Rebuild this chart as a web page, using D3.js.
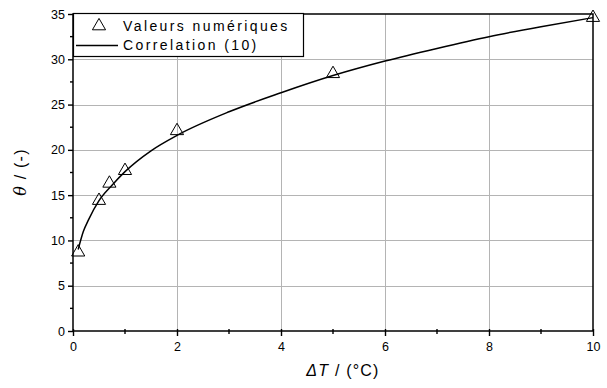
<!DOCTYPE html>
<html lang="fr">
<head>
<meta charset="UTF-8">
<title>theta vs deltaT</title>
<style>
  body{margin:0;background:#fff;}
  svg{display:block;font-family:"Liberation Sans",Arial,sans-serif;}
</style>
</head>
<body>
<svg width="607" height="388"></svg>
<script src="https://d3js.org/d3.v7.min.js"></script>
<script>
// valeurs numériques (triangles)
var ptX = [0.1, 0.5, 0.7, 1, 2, 5, 10];
var ptY = [8.7, 14.4, 16.3, 17.7, 22.1, 28.4, 34.6];
// corrélation (10)
var curX = [0.1, 0.2, 0.3, 0.5, 0.75, 1, 1.5, 2, 3, 4, 5, 6, 7, 8, 9, 10];
var curY = [9.0, 11.0, 12.3, 14.4, 16.1, 17.6, 19.9, 21.6, 24.2, 26.3, 28.2, 29.8, 31.2, 32.5, 33.6, 34.6];
var xTicks = [0, 2, 4, 6, 8, 10];
var yTicks = [0, 5, 10, 15, 20, 25, 30, 35];
var legendLabels = ["Valeurs numériques", "Correlation (10)"];

var svg = d3.select("svg");
var L = 73, R = 593, T = 14, B = 331;

var x = d3.scaleLinear().domain([0, 10]).range([L, R]);
var y = d3.scaleLinear().domain([0, 35]).range([B, T]);

// grille
var grid = svg.append("g").attr("stroke", "#b4b4b4").attr("stroke-width", 1);
grid.selectAll(".gx").data(xTicks.slice(1, -1)).enter().append("line")
  .attr("x1", function(d){return Math.round(x(d)) + 0.5;}).attr("x2", function(d){return Math.round(x(d)) + 0.5;})
  .attr("y1", T).attr("y2", B);
grid.selectAll(".gy").data(yTicks.slice(1, -1)).enter().append("line")
  .attr("y1", function(d){return Math.round(y(d)) + 0.5;}).attr("y2", function(d){return Math.round(y(d)) + 0.5;})
  .attr("x1", L).attr("x2", R);

// axes
var xAxis = d3.axisBottom(x).tickValues(xTicks).tickSize(5).tickPadding(3).tickFormat(d3.format("d"));
var yAxis = d3.axisLeft(y).tickValues(yTicks).tickSize(5).tickPadding(3).tickFormat(d3.format("d"));
var gx = svg.append("g").attr("transform", "translate(0," + B + ")").call(xAxis);
var gy = svg.append("g").attr("transform", "translate(" + L + ",0)").call(yAxis);
[gx, gy].forEach(function(g){
  g.select(".domain").remove();
  g.selectAll("line").attr("stroke", "#000").attr("stroke-width", 1.4);
  g.selectAll("text").attr("fill", "#000").attr("font-size", 12.5);
});
gx.selectAll(".tick line").attr("y1", -2);
gx.selectAll(".tick text").attr("dy", "0.95em");

// petites graduations
svg.append("g").selectAll("line").data([1, 3, 5, 7, 9]).enter().append("line")
  .attr("x1", function(d){return x(d);}).attr("x2", function(d){return x(d);})
  .attr("y1", B - 2).attr("y2", B + 3).attr("stroke", "#000").attr("stroke-width", 1.4);
svg.append("g").selectAll("line").data(d3.range(2.5, 35, 5)).enter().append("line")
  .attr("y1", function(d){return y(d);}).attr("y2", function(d){return y(d);})
  .attr("x1", L - 3).attr("x2", L).attr("stroke", "#000").attr("stroke-width", 1.4);

// cadre
svg.append("rect").attr("x", L).attr("y", T).attr("width", R - L).attr("height", B - T)
  .attr("fill", "none").attr("stroke", "#000").attr("stroke-width", 1.5);

// courbe
var line = d3.line().x(function(d){return x(d[0]);}).y(function(d){return y(d[1]);}).curve(d3.curveMonotoneX);
svg.append("path").attr("d", line(d3.zip(curX, curY)))
  .attr("fill", "none").attr("stroke", "#000").attr("stroke-width", 1.5);

// triangles
var tri = d3.symbol().type(d3.symbolTriangle).size(75);
svg.append("g").selectAll("path").data(d3.zip(ptX, ptY)).enter().append("path")
  .attr("d", tri)
  .attr("transform", function(d){return "translate(" + x(d[0]) + "," + y(d[1]) + ")";})
  .attr("fill", "none").attr("stroke", "#000").attr("stroke-width", 1);

// légende
var lg = svg.append("g");
lg.append("rect").attr("x", 73.5).attr("y", 13.5).attr("width", 230).attr("height", 43)
  .attr("fill", "#fff").attr("stroke", "#000").attr("stroke-width", 1.2);
lg.append("path").attr("d", tri).attr("transform", "translate(99,26)")
  .attr("fill", "none").attr("stroke", "#000").attr("stroke-width", 1);
lg.append("line").attr("x1", 76).attr("x2", 118).attr("y1", 45.5).attr("y2", 45.5)
  .attr("stroke", "#000").attr("stroke-width", 1.3);
lg.selectAll("text").data(legendLabels).enter().append("text")
  .attr("x", 123).attr("y", function(d, i){return 30.5 + i * 19.5;})
  .attr("font-size", 14).attr("letter-spacing", 2.4).attr("fill", "#000")
  .text(function(d){return d;});

// titres des axes
var xt = svg.append("text").attr("x", 343).attr("y", 376).attr("text-anchor", "middle")
  .attr("font-size", 16).attr("letter-spacing", 1.2).attr("fill", "#000");
xt.append("tspan").attr("font-style", "italic").text("\u0394T");
xt.append("tspan").text(" / (°C)");

var yt = svg.append("text").attr("transform", "translate(26,172) rotate(-90)").attr("text-anchor", "middle")
  .attr("font-size", 16).attr("letter-spacing", 1.2).attr("fill", "#000");
yt.append("tspan").attr("font-style", "italic").attr("font-family", "'DejaVu Serif',serif").text("\u03b8");
yt.append("tspan").text(" / (-)");
</script>
</body>
</html>
